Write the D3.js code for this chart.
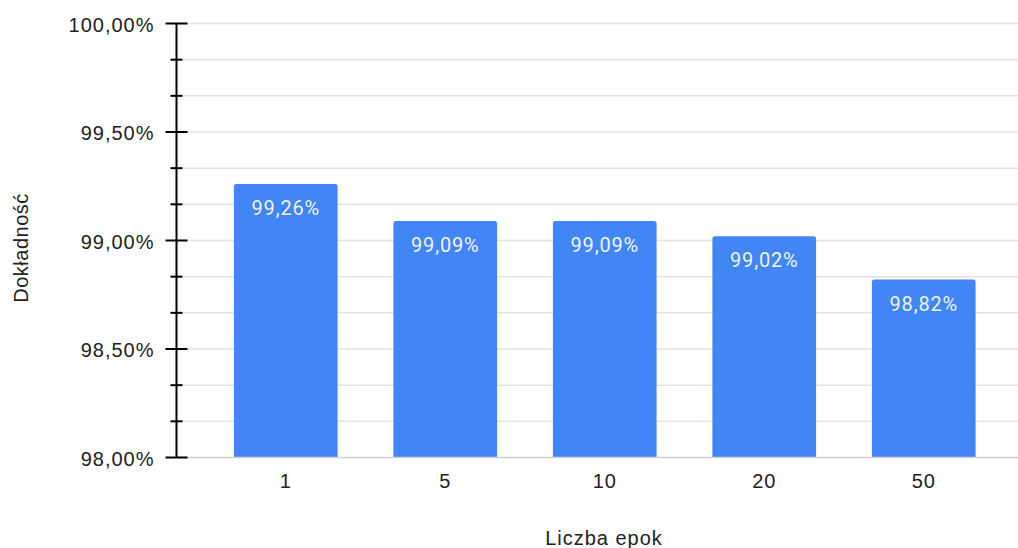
<!DOCTYPE html>
<html>
<head>
<meta charset="utf-8">
<script src="https://cdn.jsdelivr.net/npm/d3@7"></script>
<style>
  html, body { margin: 0; padding: 0; background: #fff; }
  svg { display: block; }
</style>
</head>
<body>
<svg id="chart" width="1018" height="548"></svg>
<script>
// Accuracy per number of training epochs
const epochs = ["1", "5", "10", "20", "50"];
const accuracy = [99.26, 99.09, 99.09, 99.02, 98.82];
const majorTicks = [98.0, 98.5, 99.0, 99.5, 100.0];
const minorTicks = [98.1667, 98.3333, 98.6667, 98.8333, 99.1667, 99.3333, 99.6667, 99.8333];

const svg = d3.select("#chart");
const W = 1018;
const axisX = 176.5;
const labelFont = "'Liberation Sans', Arial, sans-serif";

const y = d3.scaleLinear().domain([98, 100]).range([457.5, 23.5]);
const x = d3.scaleBand().domain(epochs).range([206, 1003.5])
  .paddingInner(0.35).paddingOuter(0.175);

const fmt = v => d3.format(".2f")(v).replace(".", ",") + "%";

// Horizontal gridlines
svg.append("g").selectAll("line")
  .data(minorTicks.concat(majorTicks.filter(d => d !== 98)))
  .join("line")
  .attr("x1", axisX).attr("x2", W)
  .attr("y1", d => y(d)).attr("y2", d => y(d))
  .attr("stroke", "#e3e3e3").attr("stroke-width", 1.5);

// Bars with slightly rounded tops
svg.append("g").selectAll("path")
  .data(accuracy)
  .join("path")
  .attr("fill", "#4285f4")
  .attr("d", (d, i) => {
    const x0 = x(epochs[i]), w = x.bandwidth(), y0 = y(d), y1 = y(98), r = 2.5;
    return `M${x0},${y1}V${y0 + r}Q${x0},${y0} ${x0 + r},${y0}H${x0 + w - r}Q${x0 + w},${y0} ${x0 + w},${y0 + r}V${y1}Z`;
  });

// Baseline
svg.append("line")
  .attr("x1", axisX).attr("x2", W)
  .attr("y1", y(98)).attr("y2", y(98))
  .attr("stroke", "#d0d0d0").attr("stroke-width", 1.5);

// Value labels inside the bars
svg.append("g").selectAll("text")
  .data(accuracy)
  .join("text")
  .attr("x", (d, i) => x(epochs[i]) + x.bandwidth() / 2)
  .attr("y", d => y(d) + 31)
  .attr("text-anchor", "middle")
  .attr("font-family", "Roboto, sans-serif")
  .attr("font-size", 20)
  .attr("letter-spacing", 0.8)
  .attr("fill", "#eef3fd")
  .text(d => fmt(d));

// Y axis: major and minor ticks
const yAxisMajor = d3.axisLeft(y).tickValues(majorTicks).tickSize(0).tickPadding(0).tickFormat(fmt);
const gy = svg.append("g").attr("transform", `translate(${axisX},0)`);
gy.call(yAxisMajor);
gy.select(".domain").remove();
gy.selectAll("text")
  .attr("x", -22)
  .attr("dy", "0.38em")
  .attr("font-family", labelFont)
  .attr("font-size", 20)
  .attr("letter-spacing", 1)
  .attr("fill", "#222");

gy.append("line")
  .attr("x1", 0).attr("x2", 0)
  .attr("y1", y(100)).attr("y2", y(98))
  .attr("stroke", "#000").attr("stroke-width", 2);
gy.selectAll(".major")
  .data(majorTicks)
  .join("line").attr("class", "major")
  .attr("x1", -11).attr("x2", 11)
  .attr("y1", d => y(d)).attr("y2", d => y(d))
  .attr("stroke", "#000").attr("stroke-width", 2);
gy.selectAll(".minor")
  .data(minorTicks)
  .join("line").attr("class", "minor")
  .attr("x1", -6).attr("x2", 6)
  .attr("y1", d => y(d)).attr("y2", d => y(d))
  .attr("stroke", "#000").attr("stroke-width", 2);

// X axis labels
const gx = svg.append("g").attr("transform", `translate(0,${y(98)})`)
  .call(d3.axisBottom(x).tickSize(0).tickPadding(0));
gx.select(".domain").remove();
gx.selectAll("text")
  .attr("y", 30)
  .attr("dy", 0)
  .attr("font-family", labelFont)
  .attr("font-size", 20)
  .attr("letter-spacing", 1)
  .attr("fill", "#222");

// Axis titles
svg.append("text")
  .attr("x", 604).attr("y", 545)
  .attr("text-anchor", "middle")
  .attr("font-family", labelFont)
  .attr("font-size", 20)
  .attr("letter-spacing", 1)
  .attr("fill", "#222")
  .text("Liczba epok");

svg.append("text")
  .attr("transform", "translate(28,248) rotate(-90)")
  .attr("text-anchor", "middle")
  .attr("font-family", labelFont)
  .attr("font-size", 20)
  .attr("letter-spacing", 0.5)
  .attr("fill", "#222")
  .text("Dokładność");
</script>
</body>
</html>
